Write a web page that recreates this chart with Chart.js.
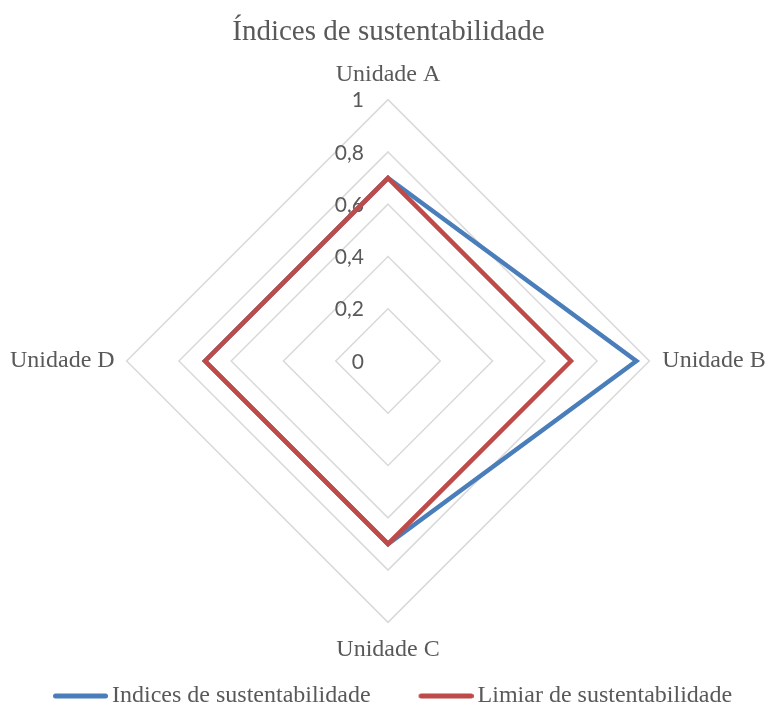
<!DOCTYPE html>
<html><head><meta charset="utf-8">
<script src="https://cdn.jsdelivr.net/npm/chart.js@4.4.1/dist/chart.umd.min.js"></script>
<style>html,body{margin:0;padding:0;background:#fff}canvas{display:block}</style>
</head><body>
<canvas id="c" width="768" height="704"></canvas>
<script>
const chartTitle = 'Índices de sustentabilidade';
const categories = ['Unidade A', 'Unidade B', 'Unidade C', 'Unidade D'];
const indicesValues = [0.7, 0.95, 0.7, 0.7];
const limiarValues = [0.7, 0.7, 0.7, 0.7];
const seriesNames = ['Indices de sustentabilidade', 'Limiar de sustentabilidade'];
const seriesColors = ['#4A7EBB', '#BE4B48'];
const tickLabels = ['0', '0,2', '0,4', '0,6', '0,8', '1'];

const SERIF = "'Liberation Serif', 'Times New Roman', serif";
const SANS = "Lato, 'Liberation Sans', sans-serif";
const TEXT = '#595959';

function lineIcon(color) {
  const c = document.createElement('canvas');
  c.width = 92; c.height = 10;
  const g = c.getContext('2d');
  g.strokeStyle = color; g.lineWidth = 5; g.lineCap = 'round';
  g.beginPath(); g.moveTo(39.5, 5); g.lineTo(89.5, 5); g.stroke();
  return c;
}

const tickLabelPlugin = {
  id: 'tickLabelPlugin',
  beforeDatasetsDraw(chart) {
    const s = chart.scales.r;
    const ctx = chart.ctx;
    ctx.save();
    ctx.font = '21px ' + SANS;
    ctx.fillStyle = TEXT;
    ctx.textAlign = 'right';
    ctx.textBaseline = 'middle';
    s.ticks.forEach(t => {
      const d = s.getDistanceFromCenterForValue(t.value);
      ctx.fillText(t.label, s.xCenter - 24, s.yCenter - d + 1);
    });
    ctx.restore();
  }
};

const legendShift = {
  id: 'legendShift',
  afterLayout(chart) { if (chart.legend) chart.legend.left = 5; }
};

new Chart(document.getElementById('c'), {
  type: 'radar',
  data: {
    labels: categories,
    datasets: [
      { label: seriesNames[0], data: indicesValues, borderColor: seriesColors[0], backgroundColor: seriesColors[0],
        borderWidth: 4.5, pointRadius: 0, pointHoverRadius: 0, fill: false, order: 1, borderJoinStyle: 'miter' },
      { label: seriesNames[1], data: limiarValues, borderColor: seriesColors[1], backgroundColor: seriesColors[1],
        borderWidth: 4.5, pointRadius: 0, pointHoverRadius: 0, fill: false, order: 0, borderJoinStyle: 'miter' }
    ]
  },
  options: {
    responsive: false,
    animation: false,
    devicePixelRatio: 1,
    layout: { padding: { left: 10, right: 1, top: 0, bottom: -14 } },
    scales: {
      r: {
        min: 0, max: 1,
        ticks: { stepSize: 0.2, display: false, callback: (v, i) => tickLabels[i] },
        grid: { color: '#D9D9D9', lineWidth: 1.5 },
        angleLines: { display: false },
        pointLabels: {
          color: TEXT,
          font: { family: SERIF, size: 24, lineHeight: 1 },
          padding: ctx => [13, 13, 15, 12][ctx.index]
        }
      }
    },
    plugins: {
      title: {
        display: true, text: chartTitle, color: TEXT,
        font: { family: SERIF, size: 29, weight: 'normal', lineHeight: 1.2 },
        padding: { top: 15, bottom: 11 }
      },
      legend: {
        position: 'bottom', align: 'start',
        labels: {
          color: TEXT,
          font: { family: SERIF, size: 24 },
          usePointStyle: true, pointStyleWidth: 76, padding: 19,
          sort: (a, b) => a.datasetIndex - b.datasetIndex,
          generateLabels(chart) {
            const items = Chart.defaults.plugins.legend.labels.generateLabels(chart);
            items.forEach(it => { it.pointStyle = lineIcon(seriesColors[it.datasetIndex]); });
            return items;
          }
        }
      },
      tooltip: { enabled: false }
    }
  },
  plugins: [tickLabelPlugin, legendShift]
});
</script>
</body></html>
